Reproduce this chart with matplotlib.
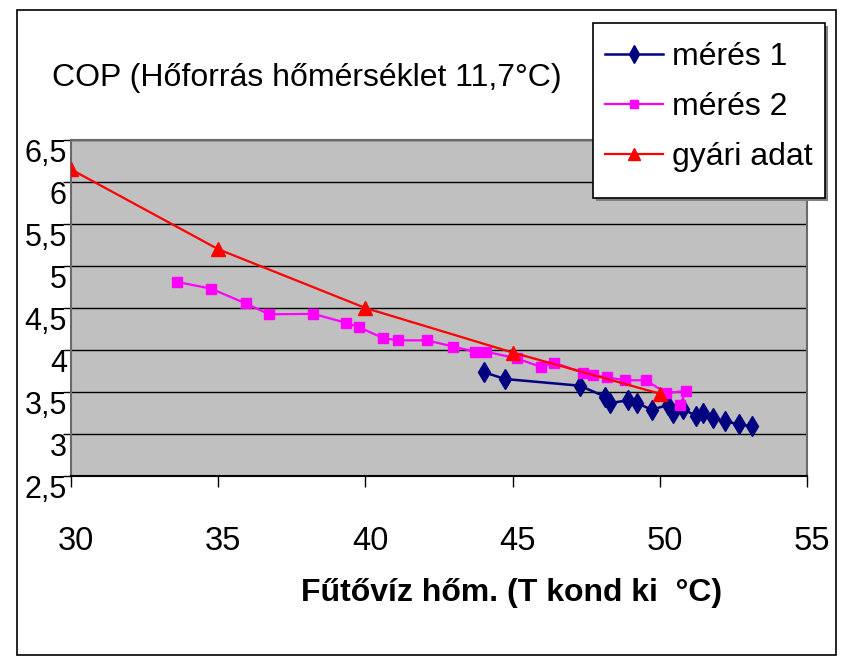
import matplotlib
matplotlib.use("Agg")
import matplotlib.pyplot as plt
import matplotlib.transforms as mtransforms
from matplotlib.patches import Rectangle

plt.rcParams['font.family'] = ['Liberation Sans', 'DejaVu Sans']

# mérés 1 (navy diamonds)
x_meres1 = [44.03, 44.74, 47.28, 48.14, 48.31, 48.93, 49.21, 49.72, 50.29, 50.46,
            50.80, 51.23, 51.46, 51.82, 52.23, 52.70, 53.12]
y_meres1 = [3.735, 3.655, 3.575, 3.445, 3.37, 3.40, 3.37, 3.29, 3.345, 3.25,
            3.30, 3.21, 3.245, 3.185, 3.15, 3.115, 3.09]

# mérés 2 (magenta squares)
x_meres2 = [33.61, 34.76, 35.93, 36.73, 38.23, 39.33, 39.79, 40.61, 41.12, 42.10,
            42.99, 43.72, 44.10, 45.14, 45.95, 46.41, 47.38, 47.72, 48.20, 48.82,
            49.52, 50.21, 50.89, 50.69]
y_meres2 = [4.81, 4.73, 4.555, 4.425, 4.43, 4.325, 4.27, 4.14, 4.115, 4.115,
            4.04, 3.98, 3.98, 3.90, 3.80, 3.85, 3.73, 3.70, 3.675, 3.64,
            3.64, 3.49, 3.51, 3.35]

# gyári adat (red triangles)
x_gyari = [30, 35, 40, 45, 50]
y_gyari = [6.15, 5.2, 4.5, 3.97, 3.48]

xticks = [30, 35, 40, 45, 50, 55]
yticks = [2.5, 3, 3.5, 4, 4.5, 5, 5.5, 6, 6.5]
ytick_labels = ['2,5', '3', '3,5', '4', '4,5', '5', '5,5', '6', '6,5']

W, H = 846, 664
fig = plt.figure(figsize=(W / 100, H / 100), dpi=100)
fig.patch.set_facecolor('white')

# outer chart frame
fig.patches.append(Rectangle((17 / W, 1 - 655 / H), (836 - 17) / W, (655 - 10) / H,
                             transform=fig.transFigure, fill=False,
                             edgecolor='black', linewidth=1.2))

ax = fig.add_axes([71 / W, 1 - 476 / H, (807 - 71) / W, (476 - 140) / H])
ax.set_facecolor('#C0C0C0')

l1, = ax.plot(x_meres1, y_meres1, color='#000080', lw=1.8, marker='d', ms=10.5,
              mec='#000080', mfc='#000080', label='mérés 1', zorder=3)
l2, = ax.plot(x_meres2, y_meres2, color='#FF00FF', lw=1.6, marker='s', ms=7.5,
              mec='#FF00FF', mfc='#FF00FF', label='mérés 2', zorder=3)
l3, = ax.plot(x_gyari, y_gyari, color='#FF0000', lw=1.6, marker='^', ms=10,
              mec='#FF0000', mfc='#FF0000', label='gyári adat', zorder=4)

ax.set_xlim(30, 55)
ax.set_ylim(2.5, 6.5)
ax.set_xticks(xticks)
ax.set_xticklabels([str(v) for v in xticks])
ax.set_yticks(yticks)
ax.set_yticklabels(ytick_labels)

ax.grid(axis='y', color='black', lw=1.0)
ax.set_axisbelow(True)

for s in ['top', 'right', 'left']:
    ax.spines[s].set_color('#6a6a6a')
    ax.spines[s].set_linewidth(1.5)
ax.spines['bottom'].set_color('black')
ax.spines['bottom'].set_linewidth(1.5)

ax.tick_params(axis='x', direction='out', length=8, width=1, color='black',
               labelsize=23.5, pad=28)
ax.tick_params(axis='y', direction='out', length=6, width=1, color='black',
               labelsize=22, pad=-3)

dx = mtransforms.ScaledTranslation(5 / 100, 0, fig.dpi_scale_trans)
for lab in ax.get_xticklabels():
    lab.set_transform(lab.get_transform() + dx)
dy = mtransforms.ScaledTranslation(0, -11 / 100, fig.dpi_scale_trans)
for lab in ax.get_yticklabels():
    lab.set_transform(lab.get_transform() + dy)

fig.text(52 / W, 1 - 78 / H, 'COP (Hőforrás hőmérséklet 11,7°C)',
         fontsize=23, ha='left', va='center')
fig.text(512 / W, 1 - 593 / H, 'Fűtővíz hőm. (T kond ki  °C)',
         fontsize=23, fontweight='bold', ha='center', va='center')

# legend frame with shadow, drawn by hand
lx0, ly0, lx1, ly1 = 593, 23, 825, 198
fig.patches.append(Rectangle(((lx0 + 3) / W, 1 - (ly1 + 3) / H), (lx1 - lx0) / W,
                             (ly1 - ly0) / H, transform=fig.transFigure,
                             facecolor='#808080', edgecolor='none', zorder=5))
fig.patches.append(Rectangle((lx0 / W, 1 - ly1 / H), (lx1 - lx0) / W,
                             (ly1 - ly0) / H, transform=fig.transFigure,
                             facecolor='white', edgecolor='black', lw=1.2, zorder=6))

leg = fig.legend(handles=[l1, l2, l3], loc='upper left',
                 bbox_to_anchor=(599 / W, 1 - 36 / H),
                 bbox_transform=fig.transFigure, borderaxespad=0,
                 fontsize=23, frameon=False, handlelength=1.8, handletextpad=0.3,
                 labelspacing=0.62, borderpad=0.2, markerscale=0.85)
leg.set_zorder(7)

fig.savefig('out.png', dpi=100, facecolor='white')
